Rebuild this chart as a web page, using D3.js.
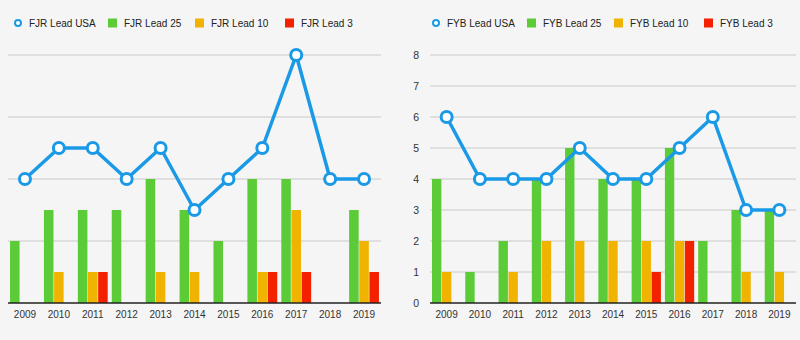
<!DOCTYPE html>
<html>
<head>
<meta charset="utf-8">
<script src="https://cdn.jsdelivr.net/npm/d3@7"></script>
<style>
  body { margin: 0; background: #f5f5f5; }
  svg { display: block; font-family: "Liberation Sans", Arial, sans-serif; }
</style>
</head>
<body>
<script>
var years = ['2009','2010','2011','2012','2013','2014','2015','2016','2017','2018','2019'];

// FJR
var fjrUsa = [4, 5, 5, 4, 5, 3, 4, 5, 8, 4, 4];
var fjr25  = [2, 3, 3, 3, 4, 3, 2, 4, 4, 0, 3];
var fjr10  = [0, 1, 1, 0, 1, 1, 0, 1, 3, 0, 2];
var fjr3   = [0, 0, 1, 0, 0, 0, 0, 1, 1, 0, 1];

// FYB
var fybUsa = [6, 4, 4, 4, 5, 4, 4, 5, 6, 3, 3];
var fyb25  = [4, 1, 2, 4, 5, 4, 4, 5, 2, 3, 3];
var fyb10  = [1, 0, 1, 2, 2, 2, 2, 2, 0, 1, 1];
var fyb3   = [0, 0, 0, 0, 0, 0, 1, 2, 0, 0, 0];

var leftTicks = [0, 2, 4, 6, 8];
var rightTicks = [0, 1, 2, 3, 4, 5, 6, 7, 8];

var colors = { usa: '#1a9ae6', l25: '#5ccb38', l10: '#f0b400', l3: '#f42100' };

var svg = d3.select('body').append('svg')
  .attr('width', 800)
  .attr('height', 340);

var drawChart = function(opt){
  var g = svg.append('g');

  var x0 = d3.scaleBand().domain(years).range([opt.x1, opt.x2])
    .paddingInner(0.12).paddingOuter(0.06);
  var x1 = d3.scaleBand().domain([0, 1, 2]).range([0, x0.bandwidth()]).paddingInner(0.06);
  var y = d3.scaleLinear().domain([0, 8]).range([303, 55]);

  // grid
  g.selectAll('line.grid').data(opt.ticks.filter(function(d){ return d > 0; })).enter()
    .append('line')
    .attr('x1', opt.x1).attr('x2', opt.x2)
    .attr('y1', function(d){ return y(d); })
    .attr('y2', function(d){ return y(d); })
    .style('stroke', '#c9c9c9').style('stroke-width', 1);

  if (opt.labels) {
    g.selectAll('text.ytick').data(opt.ticks).enter()
      .append('text')
      .attr('x', opt.x1 - 11)
      .attr('y', function(d){ return y(d); })
      .attr('dy', '0.35em')
      .attr('text-anchor', 'end')
      .style('font-size', '10.5px').style('fill', '#333')
      .text(function(d){ return d; });
  }

  // bars
  var series = [opt.l25, opt.l10, opt.l3];
  var cols = [colors.l25, colors.l10, colors.l3];
  series.forEach(function(vals, si){
    g.selectAll('rect.s' + si).data(vals).enter()
      .append('rect')
      .attr('x', function(d, i){ return x0(years[i]) + x1(si); })
      .attr('width', x1.bandwidth())
      .attr('y', function(d){ return y(d); })
      .attr('height', function(d){ return y(0) - y(d); })
      .style('fill', cols[si]);
  });

  // baseline
  g.append('line')
    .attr('x1', opt.x1).attr('x2', opt.x2)
    .attr('y1', y(0)).attr('y2', y(0))
    .style('stroke', '#222').style('stroke-width', 1.5);

  // x labels
  g.selectAll('text.xtick').data(years).enter()
    .append('text')
    .attr('x', function(d){ return x0(d) + x0.bandwidth() / 2; })
    .attr('y', 318)
    .attr('text-anchor', 'middle')
    .style('font-size', '10px').style('fill', '#333')
    .text(function(d){ return d; });

  // line
  var line = d3.line()
    .x(function(d, i){ return x0(years[i]) + x0.bandwidth() / 2; })
    .y(function(d){ return y(d); });
  g.append('path').datum(opt.usa)
    .attr('d', line)
    .style('fill', 'none').style('stroke', colors.usa)
    .style('stroke-width', 3.5).style('stroke-linejoin', 'round');
  g.selectAll('circle.pt').data(opt.usa).enter()
    .append('circle')
    .attr('cx', function(d, i){ return x0(years[i]) + x0.bandwidth() / 2; })
    .attr('cy', function(d){ return y(d); })
    .attr('r', 5.5)
    .style('fill', '#fff').style('stroke', colors.usa).style('stroke-width', 3);

  // legend
  var lg = g.append('g');
  var items = [
    { name: opt.prefix + ' Lead USA', type: 'c', color: colors.usa, x: opt.legend[0] },
    { name: opt.prefix + ' Lead 25', type: 'r', color: colors.l25, x: opt.legend[1] },
    { name: opt.prefix + ' Lead 10', type: 'r', color: colors.l10, x: opt.legend[2] },
    { name: opt.prefix + ' Lead 3', type: 'r', color: colors.l3, x: opt.legend[3] }
  ];
  items.forEach(function(it){
    if (it.type === 'c') {
      lg.append('circle').attr('cx', it.x + 4).attr('cy', 23).attr('r', 3)
        .style('fill', '#fff').style('stroke', it.color).style('stroke-width', 2);
      lg.append('text').attr('x', it.x + 15).attr('y', 23).attr('dy', '0.35em')
        .style('font-size', '10px').style('fill', '#222').text(it.name);
    } else {
      lg.append('rect').attr('x', it.x).attr('y', 18.5).attr('width', 9).attr('height', 9)
        .style('fill', it.color);
      lg.append('text').attr('x', it.x + 16).attr('y', 23).attr('dy', '0.35em')
        .style('font-size', '10px').style('fill', '#222').text(it.name);
    }
  });
};

drawChart({ x1: 8, x2: 381, ticks: leftTicks, labels: false, prefix: 'FJR',
  usa: fjrUsa, l25: fjr25, l10: fjr10, l3: fjr3, legend: [14, 108, 195, 285] });
drawChart({ x1: 430, x2: 796, ticks: rightTicks, labels: true, prefix: 'FYB',
  usa: fybUsa, l25: fyb25, l10: fyb10, l3: fyb3, legend: [432, 527, 614, 704] });
</script>
</body>
</html>
